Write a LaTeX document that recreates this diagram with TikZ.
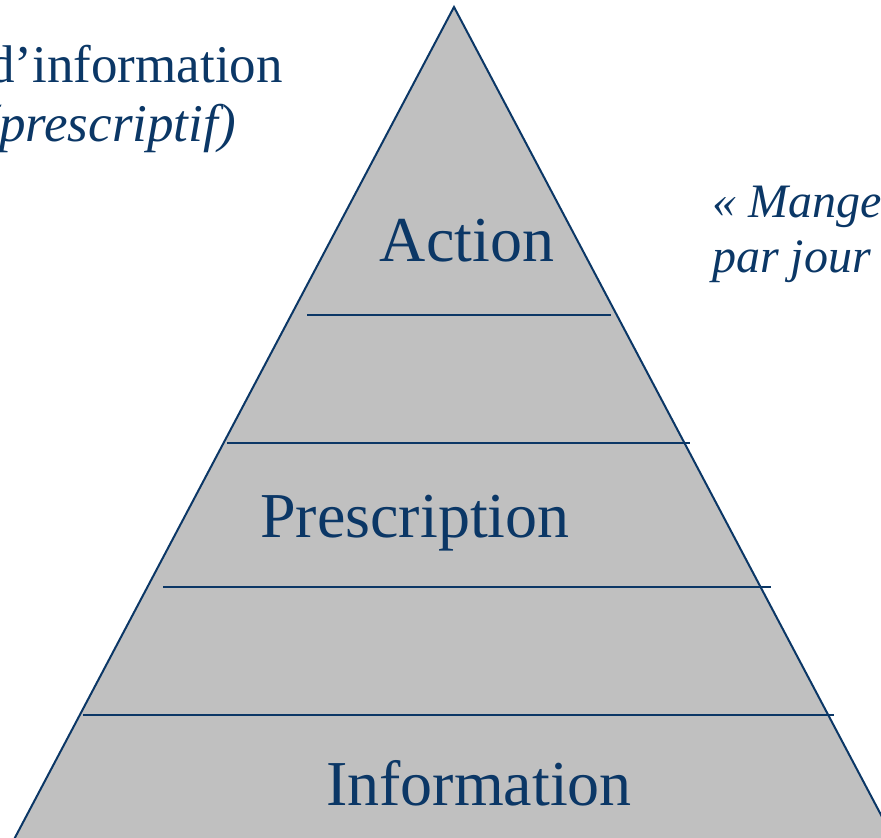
\documentclass[tikz,border=0pt]{standalone}
\usepackage{fontspec}
\setmainfont{Liberation Serif}
\definecolor{navy}{HTML}{0B3766}
\definecolor{pyrgray}{HTML}{C0C0C0}
\tikzset{
  lbl/.style={text=navy, inner sep=0pt, anchor=base},
  big/.style={lbl, font=\fontsize{64}{76}\selectfont},
  side/.style={text=navy, inner sep=0pt, font=\fontsize{53}{64}\selectfont},
  quote/.style={text=navy, inner sep=0pt, anchor=base west, font=\fontsize{48}{58}\selectfont\itshape},
  rule/.style={draw=navy, line width=2pt},
}
\begin{document}
\begin{tikzpicture}[x=1pt,y=-1pt]
\useasboundingbox (0,0) rectangle (881,838);
\clip (0,0) rectangle (881,838);
% pyramid
\coordinate (apex) at (454,7);
\coordinate (bl) at (-18,900);
\coordinate (br) at (926,900);
\filldraw[fill=pyrgray, rule, line join=miter] (bl) -- (apex) -- (br);
% level separators
\coordinate (a1) at (307,315); \coordinate (b1) at (611,315);
\coordinate (a2) at (227,443); \coordinate (b2) at (690,443);
\coordinate (a3) at (163,587); \coordinate (b3) at (771,587);
\coordinate (a4) at (83,715);  \coordinate (b4) at (834,715);
\draw[rule] (a1) -- (b1);
\draw[rule] (a2) -- (b2);
\draw[rule] (a3) -- (b3);
\draw[rule] (a4) -- (b4);
% level labels
\node[big] (action) at (467,261) {Action};
\node[big] (prescription) at (415,537) {Prescription};
\node[big] (information) at (479,805) {Information};
% side texts
\node[side, anchor=base east] (sideA) at (283,82) {d’information};
\node[side, anchor=base east, font=\fontsize{53}{64}\selectfont\itshape] (sideB) at (236,141) {(prescriptif)};
\node[quote] (quoteA) at (712,217) {« Mange};
\node[quote] (quoteB) at (712,272) {par jour};
\end{tikzpicture}
\end{document}
